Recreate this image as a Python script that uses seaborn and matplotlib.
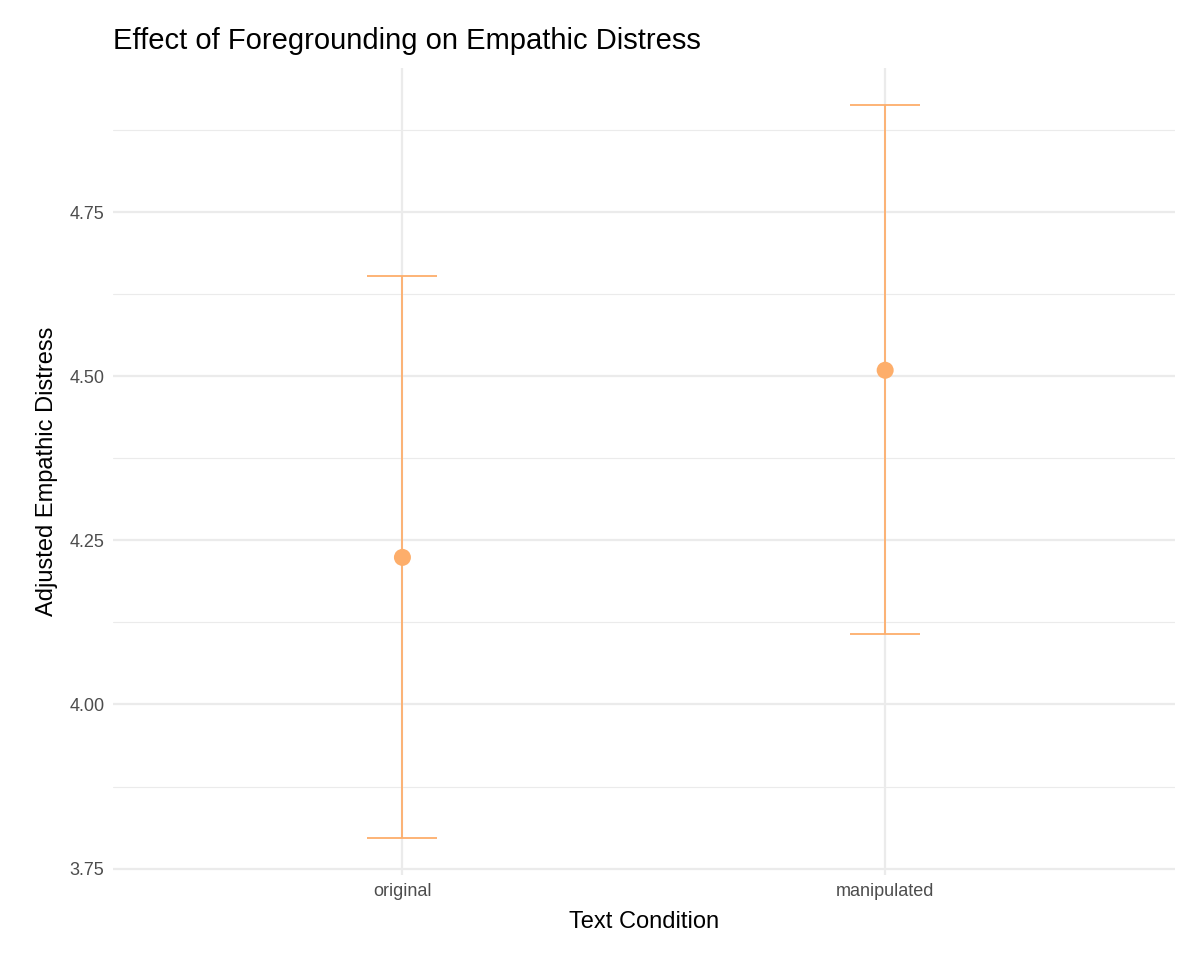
import matplotlib
matplotlib.use("Agg")
import matplotlib.pyplot as plt
import seaborn as sns
import pandas as pd

conditions = ["original", "manipulated"]
means = [4.224, 4.509]
lower = [3.797, 4.107]
upper = [4.652, 4.913]

df = pd.DataFrame({"cond": conditions, "mean": means, "lo": lower, "hi": upper})

sns.set_theme(style="white")
plt.rcParams['font.family'] = ['Liberation Sans', 'DejaVu Sans']

fig = plt.figure(figsize=(12, 9.61), dpi=100)
ax = fig.add_axes([0.094, 0.090, 0.885, 0.839])
col = "#fdae6b"
xpos = list(range(len(df)))
ax.errorbar(xpos, df["mean"], yerr=[df["mean"] - df["lo"], df["hi"] - df["mean"]],
            fmt="none", ecolor=col, elinewidth=1.3, capsize=25.5, capthick=1.3, zorder=2)
sns.scatterplot(x=xpos, y=df["mean"], ax=ax, color=col, s=150, edgecolor="none", zorder=3)

ax.set_xlim(-0.6, 1.6)
ax.set_ylim(3.741, 4.969)
ax.set_xticks(xpos)
ax.set_xticklabels(conditions)
ax.set_yticks([3.75, 4.0, 4.25, 4.5, 4.75])
ax.set_yticklabels(["3.75", "4.00", "4.25", "4.50", "4.75"])
ax.set_yticks([3.875, 4.125, 4.375, 4.625, 4.875], minor=True)
ax.grid(True, which="major", color="#ebebeb", linewidth=1.6)
ax.grid(True, which="minor", axis="y", color="#ebebeb", linewidth=0.8)
ax.set_axisbelow(True)
for s in ax.spines.values():
    s.set_visible(False)
ax.tick_params(axis="both", length=0, labelsize=13, colors="#4d4d4d", pad=6)
ax.set_xlabel("Text Condition", fontsize=17, color="black", labelpad=8)
ax.set_ylabel("Adjusted Empathic Distress", fontsize=17, color="black", labelpad=8)
ax.set_title("Effect of Foregrounding on Empathic Distress", fontsize=21, loc="left",
             pad=14, color="black")
fig.savefig("out.png", dpi=100)
